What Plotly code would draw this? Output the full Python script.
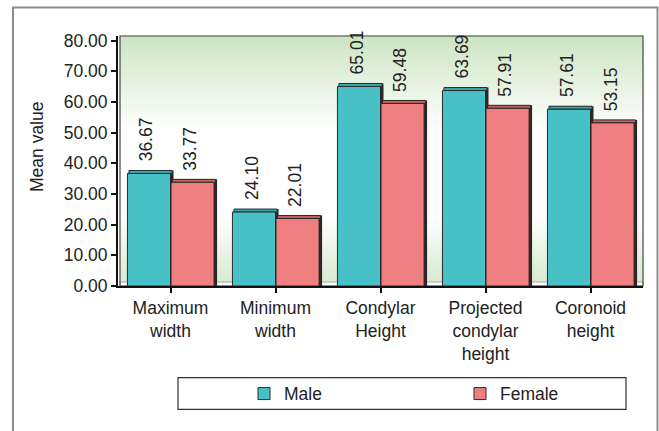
import plotly.graph_objects as go

# Mandible measurements: mean values by sex
categories = ["Maximum<br>width", "Minimum<br>width", "Condylar<br>Height",
              "Projected<br>condylar<br>height", "Coronoid<br>height"]
male = [36.67, 24.10, 65.01, 63.69, 57.61]
female = [33.77, 22.01, 59.48, 57.91, 53.15]
series_names = ["Male", "Female"]
y_ticks = [0, 10, 20, 30, 40, 50, 60, 70, 80]
y_title = "Mean value"

FONT = "Liberation Sans, Arial, Helvetica, sans-serif"
FS = 17.5
W, H = 659, 431
ML, MR, MT, MB = 118, 16, 36, 145
PW, PH = W - ML - MR, H - MT - MB
Y_MAX = 81.47

MALE_C, MALE_TOP = "#47c1c6", "#36a9ae"
FEM_C, FEM_TOP = "#f07f81", "#c9605f"
SIDE_C = "#2e2626"
EDGE = "#2a2a2a"

BAR_W = 0.41
OFFS = [-0.41, 0.005]
dx = 3 / PW * 5          # 3 px depth in category units
dy = 3 / PH * Y_MAX      # 3 px depth in value units


def px_x(px):
    return (px - ML) / PW


def px_y(py):
    return (MT + PH - py) / PH


fig = go.Figure()
xs = list(range(len(categories)))

# right-hand side faces (pseudo 3D depth)
for vals, off in zip([male, female], OFFS):
    fig.add_trace(go.Bar(x=xs, y=[v + dy for v in vals], offset=off + dx, width=BAR_W,
                         marker=dict(color=SIDE_C, line=dict(width=0)),
                         showlegend=False, hoverinfo="skip"))
# top faces
for vals, off, col in zip([male, female], OFFS, [MALE_TOP, FEM_TOP]):
    fig.add_trace(go.Bar(x=xs, y=[dy] * len(vals), base=vals, offset=off + dx / 2, width=BAR_W,
                         marker=dict(color=col, line=dict(width=1, color=EDGE)),
                         showlegend=False, hoverinfo="skip"))
# front faces
for vals, off, col, name in zip([male, female], OFFS, [MALE_C, FEM_C], series_names):
    fig.add_trace(go.Bar(x=xs, y=vals, offset=off, width=BAR_W, name=name,
                         marker=dict(color=col, line=dict(width=1, color=EDGE))))

# value labels above bars
annotations = []
for vals, off in zip([male, female], OFFS):
    for i, v in enumerate(vals):
        annotations.append(dict(x=i + off + BAR_W / 2 - 0.02, y=v, xref="x", yref="y",
                                text=f"{v:.2f}", textangle=-90, showarrow=False,
                                xanchor="center", yanchor="bottom", yshift=10,
                                font=dict(family=FONT, size=FS, color="#222")))
# y axis title
annotations.append(dict(x=px_x(37), y=px_y(147), xref="paper", yref="paper",
                        text=y_title, textangle=-90, showarrow=False,
                        xanchor="center", yanchor="middle",
                        font=dict(family=FONT, size=FS, color="#222")))

# back wall gradient: green at top, white in the middle, green at the floor
def mix(c1, c2, t):
    return "rgb(%d,%d,%d)" % tuple(round(a + (b - a) * t) for a, b in zip(c1, c2))

top_g, bot_g, white = (204, 229, 194), (212, 233, 204), (255, 255, 255)
shapes = []
N = 80
for k in range(N):
    t = (k + 0.5) / N          # 0 bottom -> 1 top
    if t > 0.62:
        c = mix(white, top_g, min(1.0, (t - 0.62) / 0.38))
    elif t < 0.28:
        c = mix(bot_g, white, t / 0.28)
    else:
        c = "rgb(255,255,255)"
    shapes.append(dict(type="rect", xref="paper", yref="paper", x0=2 / PW, x1=1,
                       y0=k / N, y1=(k + 1) / N + 0.002, fillcolor=c,
                       line=dict(width=0), layer="below"))
# floor strip
shapes.append(dict(type="rect", xref="paper", yref="paper", x0=2 / PW, x1=1,
                   y0=0, y1=4 / PH, fillcolor="#fafafa",
                   line=dict(width=0.8, color="#9a9a9a"), layer="below"))
# back wall outline
shapes.append(dict(type="rect", xref="paper", yref="paper", x0=2 / PW, x1=1,
                   y0=0, y1=1, fillcolor="rgba(0,0,0,0)",
                   line=dict(width=1.2, color="#444"), layer="below"))
# outer frame
shapes.append(dict(type="rect", xref="paper", yref="paper",
                   x0=px_x(13), x1=px_x(657.5), y0=px_y(460), y1=px_y(7.5),
                   fillcolor="rgba(0,0,0,0)", line=dict(width=2, color="#8c8c8c"),
                   layer="below"))
# legend box
shapes.append(dict(type="rect", xref="paper", yref="paper",
                   x0=px_x(178), x1=px_x(626), y0=px_y(409.3), y1=px_y(377.7),
                   fillcolor="white", line=dict(width=1.2, color="#333"),
                   layer="below"))

fig.update_layout(
    width=W, height=H,
    margin=dict(l=ML, r=MR, t=MT, b=MB, autoexpand=False),
    paper_bgcolor="white", plot_bgcolor="rgba(0,0,0,0)",
    barmode="overlay",
    font=dict(family=FONT, size=FS, color="#222"),
    shapes=shapes, annotations=annotations,
    showlegend=True,
    legend=dict(orientation="h", x=px_x(244), xanchor="left",
                y=px_y(393.7), yanchor="middle",
                entrywidth=171, entrywidthmode="pixels",
                bgcolor="rgba(0,0,0,0)", borderwidth=0,
                font=dict(family=FONT, size=FS, color="#222")),
    xaxis=dict(range=[-0.5, len(categories) - 0.5], tickmode="array",
               tickvals=xs, ticktext=categories,
               showgrid=False, zeroline=False,
               showline=True, linecolor="#111", linewidth=2,
               ticks="outside", ticklen=5, tickwidth=2, tickcolor="#111",
               tickfont=dict(family=FONT, size=FS, color="#222"),
               automargin=False),
    yaxis=dict(range=[0, Y_MAX], tickmode="array", tickvals=y_ticks,
               ticktext=[f"{v:.2f}" for v in y_ticks],
               showgrid=False, zeroline=False,
               showline=True, linecolor="#111", linewidth=2,
               ticks="outside", ticklen=5, tickwidth=2, tickcolor="#111",
               tickfont=dict(family=FONT, size=FS, color="#222"),
               automargin=False),
)

fig.write_html("out.html")
